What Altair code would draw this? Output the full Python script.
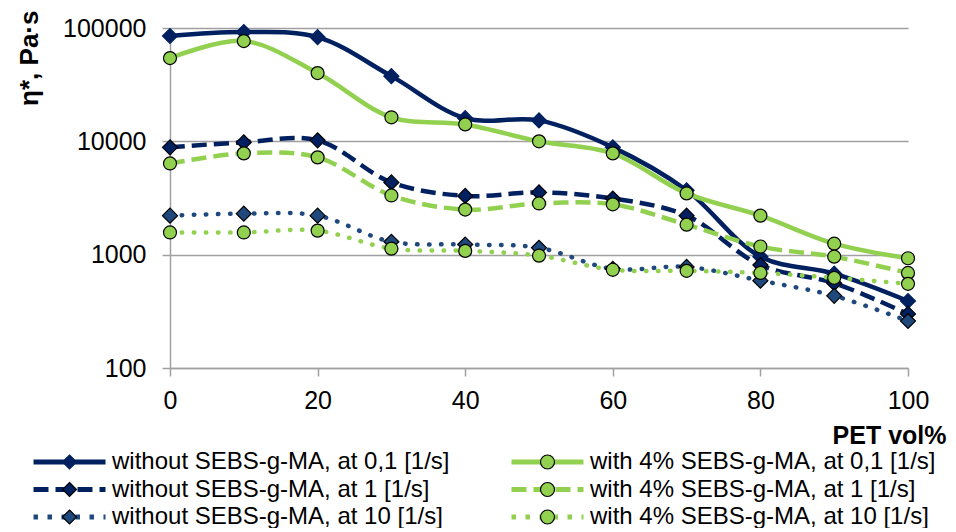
import altair as alt
import pandas as pd

# ---- data ----
pet = [0, 10, 20, 30, 40, 50, 60, 70, 80, 90, 100]
wo_01 = [85000, 92000, 83000, 37600, 16000, 15300, 8850, 3700, 960, 680, 390]
wo_1 = [8850, 9800, 10200, 4340, 3300, 3540, 3130, 2210, 810, 560, 300]
wo_10 = [2210, 2300, 2210, 1300, 1230, 1150, 750, 780, 590, 433, 260]
w_01 = [54300, 76700, 40000, 16300, 14100, 10000, 7830, 3470, 2210, 1250, 930]
w_1 = [6380, 7830, 7220, 3330, 2500, 2830, 2780, 1840, 1180, 960, 690]
w_10 = [1570, 1570, 1630, 1130, 1080, 980, 736, 720, 690, 625, 553]

names = [
    "without SEBS-g-MA, at 0,1 [1/s]",
    "without SEBS-g-MA, at 1 [1/s]",
    "without SEBS-g-MA, at 10 [1/s]",
    "with 4% SEBS-g-MA, at 0,1 [1/s]",
    "with 4% SEBS-g-MA, at 1 [1/s]",
    "with 4% SEBS-g-MA, at 10 [1/s]",
]
values = [wo_01, wo_1, wo_10, w_01, w_1, w_10]
x_ticks = [0, 20, 40, 60, 80, 100]
y_ticks = [100, 1000, 10000, 100000]

rows = []
for n, v in zip(names, values):
    for xi, yi in zip(pet, v):
        rows.append({"x": xi, "y": yi, "series": n})
df = pd.DataFrame(rows)

# ---- styles ----
NAVY = "#002060"
BLUE = "#1F497D"
GREEN = "#92D050"
GRAY = "#A0A0A0"
FONT = "Liberation Sans"
DASH = [15, 7]
DOT = [0.5, 11.5]

line_col = [NAVY, NAVY, BLUE, GREEN, GREEN, GREEN]
dashes = [None, DASH, DOT, None, DASH, DOT]
shapes = ["diamond", "diamond", "diamond", "circle", "circle", "circle"]
sizes = [225, 225, 225, 169, 169, 169]
edge = [NAVY, "black", "black", "black", "black", "black"]

xs = alt.X(
    "x:Q",
    scale=alt.Scale(domain=[0, 100], nice=False, zero=False),
    axis=alt.Axis(
        values=x_ticks, grid=False, domainColor=GRAY, domainWidth=1.5,
        tickColor=GRAY, tickWidth=1.5, tickSize=8, labelFontSize=25,
        labelPadding=12, labelColor="black", labelFlush=False, labelOverlap=False,
        title="PET vol%", titleFontSize=25, titleFontWeight="bold",
        titleColor="black", titleAlign="right", titleBaseline="alphabetic",
        titleX=776, titleY=75,
    ),
)
ys = alt.Y(
    "y:Q",
    scale=alt.Scale(type="log", domain=[100, 100000], nice=False),
    axis=alt.Axis(
        values=y_ticks, format="d", grid=True, gridColor=GRAY, gridWidth=1.5,
        domainColor=GRAY, domainWidth=1.5, tickColor=GRAY, tickWidth=1.5,
        tickSize=8, labelFontSize=25, labelPadding=16, labelColor="black",
        labelFlush=False, labelOverlap=False,
        title="η*, Pa·s", titleFontSize=26, titleFontWeight="bold",
        titleColor="black", titleAngle=270, titleAlign="right",
        titleBaseline="alphabetic", titleX=-133, titleY=-18,
    ),
)

layers = []
for i, n in enumerate(names):
    base = alt.Chart(df).transform_filter(alt.datum.series == n)
    lkw = dict(stroke=line_col[i], strokeWidth=4.5, interpolate="catmull-rom")
    if dashes[i] is not None:
        lkw["strokeDash"] = dashes[i]
    if dashes[i] is DOT:
        lkw["strokeCap"] = "round"
    layers.append(base.mark_line(**lkw).encode(x=xs, y=ys))
    layers.append(
        base.mark_point(
            shape=shapes[i], filled=True, size=sizes[i], fill=line_col[i],
            stroke=edge[i], strokeWidth=1.2, opacity=1,
        ).encode(x=xs, y=ys)
    )

# ---- legend (two overlapping legends: lines, then markers); filled column by column ----
order = [0, 1, 2, 3, 4, 5]
leg_labels = [names[i] for i in order]
leg_lcol = [line_col[i] for i in order]
leg_dash_by_style = {None: [1, 0]}
leg_dash = [[1, 0] if dashes[i] is None else ([15, 7] if dashes[i] is DASH else [4.5, 9.5]) for i in order]
d = 0.1854
diamond_path = f"M-1,0M0,-{d}L{d},0L0,{d}L-{d},0ZM1,0"
circle_path = f"M-1,0M{d},0A{d},{d} 0 1,1 -{d},0A{d},{d} 0 1,1 {d},0ZM1,0"
leg_shape = [diamond_path if shapes[i] == "diamond" else circle_path for i in order]
leg_fill = [line_col[i] for i in order]
leg_edge = [edge[i] for i in order]
keys = [lab + "\u200b" for lab in leg_labels]

common = dict(
    orient="none", legendX=-139, legendY=422, columns=2, columnPadding=59,
    rowPadding=3.5, labelFontSize=24, labelOffset=4, labelLimit=600,
    clipHeight=24, title=None, padding=0, symbolOffset=0,
    labelColor="black", labelFont=FONT,
)
legA = alt.Legend(symbolType="stroke", symbolSize=5184, symbolStrokeWidth=5, **common)
legB = alt.Legend(symbolSize=5700, symbolStrokeWidth=1.2, labelOpacity=0, **common)

lineLegend = (
    alt.Chart(df)
    .transform_filter("false")
    .mark_line(strokeWidth=5)
    .encode(
        x=xs, y=ys,
        color=alt.Color("series:N", scale=alt.Scale(domain=leg_labels, range=leg_lcol), legend=legA),
        strokeDash=alt.StrokeDash("series:N", scale=alt.Scale(domain=leg_labels, range=leg_dash), legend=legA),
    )
)
markLegend = (
    alt.Chart(df)
    .transform_filter("false")
    .transform_calculate(key="datum.series + '\u200b'")
    .mark_point(filled=True, opacity=1, strokeWidth=1.2)
    .encode(
        x=xs, y=ys,
        fill=alt.Fill("key:N", scale=alt.Scale(domain=keys, range=leg_fill), legend=legB),
        stroke=alt.Stroke("key:N", scale=alt.Scale(domain=keys, range=leg_edge), legend=legB),
        shape=alt.Shape("key:N", scale=alt.Scale(domain=keys, range=leg_shape), legend=legB),
    )
)
layers += [lineLegend, markLegend]

chart = (
    alt.layer(*layers)
    .properties(
        width=738, height=340,
        padding={"left": 162, "top": 20, "right": 40, "bottom": 160},
        autosize=alt.AutoSizeParams(type="none"),
        background="white",
    )
    .configure_view(stroke=None)
    .configure_axis(labelFont=FONT, titleFont=FONT)
    .configure_legend(labelFont=FONT)
)

chart.save("out.html", embed_options={"renderer": "svg", "actions": False})
